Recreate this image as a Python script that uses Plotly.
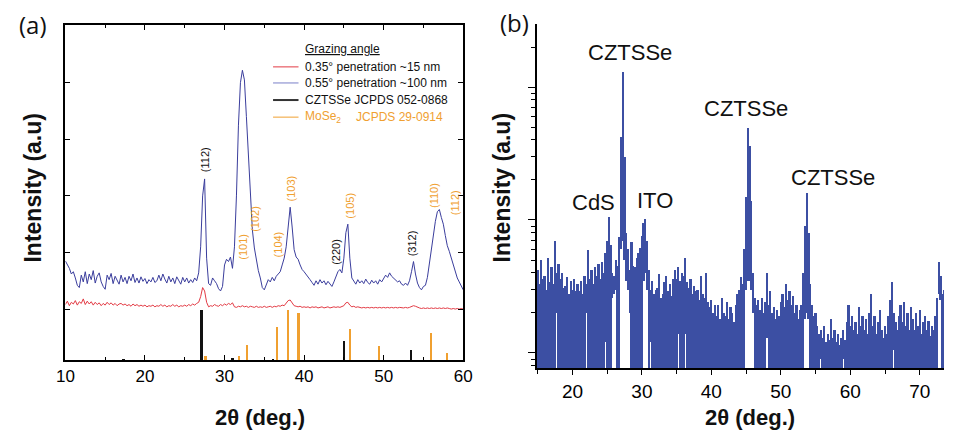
import numpy as np
import plotly.graph_objects as go

# ---------------- Panel (a): grazing-incidence XRD ----------------
two_theta_a = np.round(np.arange(10, 60.0001, 0.25), 2)

blue_055 = [
    1.85, 1.78, 1.72, 1.62, 1.66, 1.55, 1.42, 1.38, 1.60, 1.48, 1.66, 1.45,
    1.62, 1.52, 1.68, 1.46, 1.58, 1.64, 1.48, 1.40, 1.35, 1.60, 1.52, 1.63,
    1.45, 1.58, 1.50, 1.44, 1.60, 1.48, 1.56, 1.45, 1.58, 1.50, 1.62, 1.47,
    1.55, 1.46, 1.57, 1.49, 1.54, 1.45, 1.52, 1.48, 1.56, 1.47, 1.50, 1.60,
    1.50, 1.62, 1.53, 1.46, 1.58, 1.48, 1.55, 1.45, 1.57, 1.50, 1.44, 1.56,
    1.48, 1.55, 1.46, 1.52, 1.47, 1.55, 1.50, 1.64, 2.10, 3.00, 3.30, 1.90,
    1.45, 1.42, 1.55, 1.50, 1.45, 1.36, 1.32, 1.40, 1.78, 1.88, 1.84, 1.92,
    1.72, 2.10, 3.00, 4.25, 5.00, 5.22, 5.05, 4.40, 3.70, 2.95, 2.40, 2.08,
    1.85, 1.68, 1.55, 1.38, 1.34, 1.42, 1.52, 1.48, 1.56, 1.50, 1.58, 1.62,
    1.66, 1.78, 1.90, 2.10, 2.50, 2.80, 2.45, 2.05, 1.92, 1.88, 1.78, 1.70,
    1.66, 1.62, 1.56, 1.52, 1.47, 1.42, 1.50, 1.44, 1.52, 1.46, 1.50, 1.43,
    1.49, 1.44, 1.40, 1.48, 1.58, 1.66, 1.70, 1.64, 1.90, 2.35, 2.50, 1.90,
    1.55, 1.50, 1.44, 1.52, 1.46, 1.50, 1.45, 1.53, 1.47, 1.44, 1.51, 1.46,
    1.50, 1.44, 1.52, 1.48, 1.55, 1.60, 1.56, 1.64, 1.58, 1.55, 1.52, 1.48,
    1.50, 1.44, 1.42, 1.46, 1.42, 1.50, 1.66, 1.84, 1.62, 1.46, 1.38, 1.34,
    1.40, 1.42, 1.56, 1.82, 2.05, 2.35, 2.55, 2.72, 2.76, 2.62, 2.50, 2.30,
    2.12, 2.02, 1.90, 1.76, 1.64, 1.55, 1.48, 1.40, 1.34,
]

red_035 = [
    1.08, 1.14, 1.06, 1.12, 1.09, 1.15, 1.07, 1.13, 1.10, 1.18, 1.08, 1.14,
    1.09, 1.13, 1.07, 1.12, 1.08, 1.11, 1.06, 1.10, 1.07, 1.12, 1.08, 1.11,
    1.07, 1.10, 1.06, 1.09, 1.10, 1.07, 1.09, 1.06, 1.08, 1.05, 1.09, 1.06,
    1.08, 1.05, 1.07, 1.05, 1.07, 1.04, 1.06, 1.05, 1.07, 1.04, 1.06, 1.05,
    1.08, 1.05, 1.07, 1.04, 1.06, 1.05, 1.08, 1.05, 1.07, 1.04, 1.06, 1.05,
    1.07, 1.05, 1.08, 1.06, 1.09, 1.07, 1.10, 1.12, 1.22, 1.38, 1.32, 1.12,
    1.04, 1.06, 1.05, 1.08, 1.06, 1.05, 1.08, 1.06, 1.09, 1.07, 1.10, 1.08,
    1.11, 1.04, 1.03, 1.05, 1.04, 1.06, 1.04, 1.05, 1.03, 1.05, 1.04, 1.03,
    1.05, 1.03, 1.04, 1.03, 1.05, 1.03, 1.04, 1.05, 1.03, 1.05, 1.04, 1.06,
    1.05, 1.07, 1.06, 1.10, 1.15, 1.16, 1.10, 1.06, 1.05, 1.04, 1.05, 1.03,
    1.04, 1.03, 1.04, 1.02, 1.04, 1.03, 1.04, 1.02, 1.03, 1.04, 1.02, 1.03,
    1.04, 1.02, 1.03, 1.04, 1.03, 1.04, 1.03, 1.05, 1.06, 1.11, 1.12, 1.07,
    1.04, 1.05, 1.03, 1.04, 1.03, 1.02, 1.03, 1.02, 1.03, 1.02, 1.03, 1.02,
    1.03, 1.02, 1.03, 1.02, 1.03, 1.02, 1.03, 1.02, 1.03, 1.02, 1.03, 1.02,
    1.03, 1.02, 1.02, 1.03, 1.02, 1.03, 1.04, 1.06, 1.05, 1.03, 1.02, 1.01,
    1.02, 1.01, 1.02, 1.01, 1.02, 1.01, 1.02, 1.01, 1.02, 1.01, 1.02, 1.01,
    1.02, 1.01, 1.00, 1.01, 1.00, 1.01, 1.00, 1.01, 1.00,
]

# reference patterns (relative intensity, %)
czts_pos = [17.4, 27.16, 31.1, 36.2, 45.1, 53.5]
czts_int = [2, 100, 4, 2, 38, 21]
mose2_pos = [27.7, 31.9, 32.9, 36.7, 38.05, 39.4, 45.86, 49.5, 56.05, 58.07]
mose2_int = [8, 8, 30, 66, 100, 94, 62, 28, 54, 14]

hkl_text = ["(112)", "(101)", "(102)", "(104)", "(103)", "(220)", "(105)", "(312)", "(110)", "(112)"]
hkl_x = [27.48, 32.3, 33.74, 36.7, 38.34, 44.0, 45.66, 53.67, 56.34, 58.9]
hkl_y = [3.64, 2.10, 2.60, 2.14, 3.13, 2.01, 2.83, 2.16, 3.00, 2.88]
hkl_phase = ["CZTSSe", "MoSe2", "MoSe2", "MoSe2", "MoSe2", "CZTSSe", "MoSe2", "CZTSSe", "MoSe2", "MoSe2"]

# ---------------- Panel (b): log-scale XRD ----------------
two_theta_b = np.round(np.arange(15, 73.5001, 0.25), 2)
counts_top = [
    420, 330, 500, 360, 380, 300, 520, 340, 440, 330, 700, 400,
    470, 360, 400, 310, 320, 370, 280, 350, 300, 360, 290, 330,
    290, 350, 280, 380, 330, 590, 360, 420, 330, 440, 380, 470,
    360, 480, 400, 560, 700, 1050, 650, 400, 380, 500, 450, 750,
    4200, 12900, 3000, 800, 600, 420, 680, 450, 440, 520, 560, 620,
    760, 950, 1020, 700, 420, 300, 350, 280, 300, 310, 390, 260,
    280, 340, 380, 290, 330, 270, 360, 420, 360, 440, 350, 400,
    380, 520, 340, 310, 360, 280, 320, 290, 300, 250, 380, 280,
    260, 400, 240, 220, 250, 200, 230, 190, 230, 180, 260, 200,
    190, 240, 180, 220, 200, 170, 230, 280, 300, 370, 330, 600,
    1500, 4900, 3600, 1400, 400, 260, 230, 250, 210, 260, 200, 240,
    400, 230, 290, 200, 220, 180, 210, 190, 240, 280, 220, 330,
    250, 290, 230, 270, 200, 230, 180, 210, 230, 400, 900, 1600,
    800, 330, 230, 190, 200, 160, 140, 150, 130, 160, 120, 140,
    125, 180, 130, 150, 120, 140, 115, 130, 150, 125, 170, 230,
    160, 190, 150, 170, 140, 220, 160, 190, 150, 180, 140, 200,
    280, 160, 190, 140, 170, 210, 150, 130, 160, 140, 190, 250,
    340, 200, 170, 150, 190, 230, 170, 240, 160, 200, 150, 220,
    180, 150, 200, 160, 210, 140, 170, 190, 150, 175, 135, 160,
    150, 190, 260, 480, 380, 280, 300,
]
# local minima of the dense trace where it does not reach the bottom
floor_points = {
    17.75: 200, 22.0: 200, 24.75: 120, 25.75: 260, 26.0: 280, 26.25: 300,
    27.0: 600, 27.25: 700, 27.5: 500, 27.75: 350, 28.0: 300, 28.25: 200,
    30.25: 350, 30.5: 400, 30.75: 300, 31.25: 120, 35.25: 140, 36.25: 140,
    45.0: 300, 45.25: 350, 45.5: 350, 45.75: 300, 46.0: 200, 48.0: 130,
    53.5: 180, 53.75: 200, 54.0: 180, 55.75: 90, 59.0: 90, 66.25: 105,
    72.75: 280, 73.0: 250,
}
b_label_text = ["CZTSSe", "CZTSSe", "CZTSSe", "CdS", "ITO"]
b_label_x = [28.3, 45.05, 57.5, 23.0, 31.9]
b_label_counts = [18300, 6950, 2100, 1365, 1390]

# ---------------- styles ----------------
BLUE_A = "#3a3d9c"
RED_A = "#e23a44"
ORANGE = "#f0a030"
BLACK = "#111111"
BLUE_B = "#3c4fa3"
FONT = "Liberation Sans"
STICK_BASE = 0.1
STICK_SCALE = 0.0088

fig = go.Figure()

fig.add_trace(go.Scatter(x=two_theta_a, y=red_035, mode="lines",
                         line=dict(color=RED_A, width=1), xaxis="x", yaxis="y",
                         showlegend=False))
fig.add_trace(go.Scatter(x=two_theta_a, y=blue_055, mode="lines",
                         line=dict(color=BLUE_A, width=1), xaxis="x", yaxis="y",
                         showlegend=False))
fig.add_trace(go.Bar(x=czts_pos, y=[v * STICK_SCALE for v in czts_int], base=STICK_BASE,
                     width=0.25, marker=dict(color=BLACK, line=dict(width=0)),
                     xaxis="x", yaxis="y", showlegend=False))
fig.add_trace(go.Bar(x=mose2_pos, y=[v * STICK_SCALE for v in mose2_int], base=STICK_BASE,
                     width=0.25, marker=dict(color=ORANGE, line=dict(width=0)),
                     xaxis="x", yaxis="y", showlegend=False))

floors = [floor_points.get(float(t), 10) for t in two_theta_b]
fig.add_trace(go.Bar(x=two_theta_b, y=[t - f for t, f in zip(counts_top, floors)], base=floors,
                     width=0.25, marker=dict(color=BLUE_B, line=dict(width=0)),
                     xaxis="x2", yaxis="y2", showlegend=False))

annotations = []
for txt, x, y, ph in zip(hkl_text, hkl_x, hkl_y, hkl_phase):
    annotations.append(dict(x=x, y=y, xref="x", yref="y", text=txt, showarrow=False,
                            xanchor="center", yanchor="middle",
                            textangle=-90, font=dict(family=FONT, size=11,
                            color=BLACK if ph == "CZTSSe" else ORANGE)))
for txt, x, c in zip(b_label_text, b_label_x, b_label_counts):
    annotations.append(dict(x=x, y=np.log10(c), xref="x2", yref="y2", text=txt,
                            xanchor="center", yanchor="middle",
                            showarrow=False, font=dict(family=FONT, size=22, color=BLACK)))

# legend of panel (a)
leg_rows = [
    (0.875, RED_A, "0.35° penetration ~15 nm", BLACK, 1),
    (0.827, "#7a7fc8", "0.55° penetration ~100 nm", BLACK, 1),
    (0.776, "#333333", "CZTSSe JCPDS 052-0868", BLACK, 2),
    (0.725, ORANGE, "MoSe<sub>2</sub>", ORANGE, 1),
]
shapes = []
for yy, lc, txt, tc, lw in leg_rows:
    shapes.append(dict(type="line", xref="x domain", yref="y domain", x0=0.522, x1=0.586,
                       y0=yy, y1=yy, line=dict(color=lc, width=lw)))
    annotations.append(dict(xref="x domain", yref="y domain", x=0.598, y=yy, text=txt,
                            xanchor="left", yanchor="middle", showarrow=False,
                            font=dict(family=FONT, size=12, color=tc)))
annotations.append(dict(xref="x domain", yref="y domain", x=0.7255, y=0.725, text="JCPDS 29-0914",
                        xanchor="left", yanchor="middle", showarrow=False,
                        font=dict(family=FONT, size=12, color=ORANGE)))
annotations.append(dict(xref="x domain", yref="y domain", x=0.598, y=0.928, text="<u>Grazing angle</u>",
                        xanchor="left", yanchor="middle", showarrow=False,
                        font=dict(family=FONT, size=12, color=BLACK)))

# panel letters and axis titles
for txt, x, y in [("(a)", 0.0252, 0.944), ("(b)", 0.5404, 0.947)]:
    annotations.append(dict(xref="paper", yref="paper", x=x, y=y, text=txt, showarrow=False,
                            xanchor="center", yanchor="middle",
                            font=dict(family="Open Sans", size=24, color=BLACK)))
for x, y in [(0.0262, 0.566), (0.5268, 0.564)]:
    annotations.append(dict(xref="paper", yref="paper", x=x, y=y, text="<b>Intensity (a.u)</b>",
                            xanchor="center", yanchor="middle",
                            textangle=-90, showarrow=False, font=dict(family=FONT, size=23, color=BLACK)))
for x in [0.2686, 0.7922]:
    annotations.append(dict(xref="paper", yref="paper", x=x, y=0.032, text="<b>2θ (deg.)</b>",
                            xanchor="center", yanchor="middle",
                            showarrow=False, font=dict(family=FONT, size=22, color=BLACK)))

axis_common = dict(showgrid=False, zeroline=False, showline=True, linecolor="black",
                   linewidth=1.5, tickcolor="black", tickwidth=1.2)

fig.update_layout(
    width=953, height=431, margin=dict(l=0, r=0, t=0, b=0),
    paper_bgcolor="white", plot_bgcolor="white", barmode="overlay", bargap=0,
    showlegend=False,
    xaxis=dict(domain=[0.0603, 0.4858], range=[10, 60], anchor="y", tick0=10, dtick=10,
               ticks="inside", ticklen=5, mirror="ticks",
               minor=dict(dtick=5, ticks="inside", ticklen=3, tickcolor="black"),
               tickfont=dict(family=FONT, size=17, color="black"), **axis_common),
    yaxis=dict(domain=[0.1647, 0.942], range=[0.1, 6.02], anchor="x", tickvals=[1, 2, 3, 4, 5],
               showticklabels=False, ticks="inside", ticklen=5, mirror="ticks", **axis_common),
    xaxis2=dict(domain=[0.5645, 1.0], range=[14.87, 73.49], anchor="y2", tick0=10, dtick=10,
                ticks="outside", ticklen=5,
                minor=dict(dtick=5, ticks="outside", ticklen=4, tickcolor="black"),
                tickfont=dict(family=FONT, size=19, color="black"), **axis_common),
    xaxis3=dict(overlaying="x2", side="top", range=[14.87, 73.49], anchor="y2", tick0=10, dtick=5,
                ticks="inside", ticklen=5, showticklabels=False, **axis_common),
    yaxis2=dict(domain=[0.1462, 0.9443], type="log", range=[1.887, 4.474], anchor="x2",
                dtick=1, ticks="outside", ticklen=7, showticklabels=False,
                minor=dict(dtick="D1", ticks="outside", ticklen=4, tickcolor="black"),
                **axis_common),
    annotations=annotations, shapes=shapes,
)

fig.write_html("out.html", config={"displayModeBar": False},
               post_script="document.body.style.margin='0';"
                           "document.documentElement.style.overflow='hidden';")
